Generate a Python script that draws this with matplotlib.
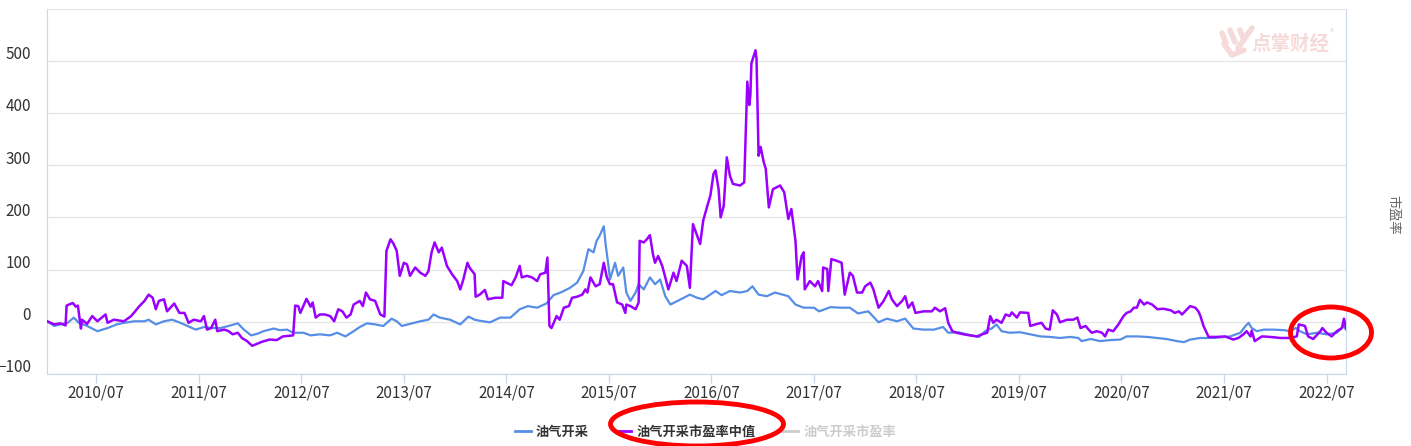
import matplotlib
matplotlib.use("Agg")
import matplotlib.pyplot as plt
from matplotlib.lines import Line2D
from matplotlib.patches import Ellipse
from matplotlib.transforms import ScaledTranslation

plt.rcParams['font.family'] = ['Noto Sans CJK SC', 'DejaVu Sans']

# ---- data (x in fractional years) ----
pe_years = [2010.02, 2010.09, 2010.15, 2010.20, 2010.21, 2010.27, 2010.30, 2010.32, 2010.35, 2010.36,
            2010.41, 2010.46, 2010.51, 2010.59, 2010.61, 2010.67, 2010.77, 2010.84, 2010.87, 2010.92,
            2010.97, 2011.01, 2011.05, 2011.08, 2011.11, 2011.16, 2011.19, 2011.26, 2011.31, 2011.36,
            2011.40, 2011.45, 2011.52, 2011.55, 2011.58, 2011.62, 2011.66, 2011.68, 2011.75, 2011.79,
            2011.83, 2011.88, 2011.92, 2011.97, 2012.02, 2012.07, 2012.12, 2012.19, 2012.26, 2012.32,
            2012.42, 2012.44, 2012.47, 2012.49, 2012.55, 2012.59, 2012.61, 2012.64, 2012.68, 2012.73,
            2012.78, 2012.82, 2012.86, 2012.90, 2012.94, 2012.98, 2013.01, 2013.07, 2013.10, 2013.13,
            2013.17, 2013.22, 2013.27, 2013.31, 2013.33, 2013.37, 2013.40, 2013.43, 2013.46, 2013.50,
            2013.53, 2013.56, 2013.61, 2013.66, 2013.71, 2013.74, 2013.77, 2013.80, 2013.84, 2013.87,
            2013.92, 2013.97, 2014.02, 2014.05, 2014.08, 2014.12, 2014.14, 2014.19, 2014.20, 2014.24,
            2014.29, 2014.32, 2014.39, 2014.46, 2014.47, 2014.55, 2014.59, 2014.63, 2014.65, 2014.70,
            2014.75, 2014.80, 2014.83, 2014.88, 2014.90, 2014.92, 2014.94, 2014.99, 2015.02, 2015.06,
            2015.11, 2015.14, 2015.19, 2015.24, 2015.27, 2015.29, 2015.32, 2015.37, 2015.41, 2015.45,
            2015.48, 2015.51, 2015.54, 2015.58, 2015.63, 2015.66, 2015.67, 2015.71, 2015.76, 2015.79,
            2015.80, 2015.84, 2015.87, 2015.90, 2015.93, 2015.95, 2015.98, 2016.02, 2016.05, 2016.08,
            2016.13, 2016.16, 2016.21, 2016.26, 2016.29, 2016.32, 2016.36, 2016.39, 2016.42, 2016.46,
            2016.49, 2016.52, 2016.54, 2016.57, 2016.59, 2016.62, 2016.65, 2016.68, 2016.71, 2016.78,
            2016.82, 2016.84, 2016.85, 2016.87, 2016.88, 2016.89, 2016.93, 2016.94, 2016.96, 2016.98,
            2017.01, 2017.03, 2017.06, 2017.10, 2017.17, 2017.21, 2017.25, 2017.28, 2017.32, 2017.34,
            2017.38, 2017.40, 2017.41, 2017.46, 2017.51, 2017.54, 2017.58, 2017.59, 2017.63, 2017.64,
            2017.67, 2017.72, 2017.77, 2017.80, 2017.85, 2017.88, 2017.92, 2017.97, 2018.00, 2018.05,
            2018.08, 2018.13, 2018.18, 2018.23, 2018.26, 2018.31, 2018.36, 2018.39, 2018.42, 2018.46,
            2018.49, 2018.57, 2018.65, 2018.68, 2018.73, 2018.78, 2018.81, 2018.85, 2018.89, 2018.96,
            2019.02, 2019.09, 2019.14, 2019.19, 2019.22, 2019.25, 2019.28, 2019.33, 2019.37, 2019.41,
            2019.43, 2019.48, 2019.51, 2019.59, 2019.61, 2019.66, 2019.72, 2019.76, 2019.80, 2019.83,
            2019.87, 2019.90, 2019.97, 2020.03, 2020.07, 2020.10, 2020.15, 2020.18, 2020.21, 2020.26,
            2020.31, 2020.34, 2020.37, 2020.42, 2020.47, 2020.52, 2020.55, 2020.59, 2020.62, 2020.65,
            2020.68, 2020.72, 2020.75, 2020.80, 2020.85, 2020.91, 2020.98, 2021.02, 2021.06, 2021.09,
            2021.12, 2021.17, 2021.22, 2021.25, 2021.27, 2021.30, 2021.35, 2021.43, 2021.51, 2021.59,
            2021.64, 2021.69, 2021.72, 2021.76, 2021.77, 2021.80, 2021.87, 2021.95, 2022.05, 2022.15,
            2022.21, 2022.23, 2022.29, 2022.32, 2022.37, 2022.44, 2022.46, 2022.50, 2022.55, 2022.60,
            2022.65, 2022.67, 2022.69]
pe_median = [1, -5, -3, -7, 31, 36, 29, 31, -13, 4,
             -4, 11, 1, 14, -2, 4, 1, 11, 18, 30,
             40, 52, 46, 24, 40, 43, 20, 35, 17, 17,
             -2, 4, 1, 11, -15, -12, 4, -18, -15, -18,
             -24, -21, -31, -37, -46, -42, -38, -34, -35, -28,
             -26, 31, 30, 17, 44, 29, 37, 8, 14, 14,
             11, 1, 24, 20, 8, 14, 33, 40, 30, 56,
             43, 40, 14, 10, 136, 158, 149, 136, 88, 113,
             110, 88, 104, 94, 88, 97, 133, 152, 133, 142,
             107, 91, 78, 62, 81, 113, 104, 91, 48, 52,
             61, 43, 46, 46, 78, 70, 85, 107, 85, 88,
             85, 78, 91, 94, 123, -8, -12, 11, 4, 27,
             30, 46, 48, 52, 62, 56, 85, 68, 72, 113,
             85, 72, 72, 37, 33, 17, 33, 30, 24, 37,
             155, 152, 158, 166, 129, 113, 126, 107, 85, 62,
             94, 78, 117, 107, 65, 187, 165, 149, 194, 222,
             242, 283, 290, 254, 200, 222, 315, 280, 264, 261,
             267, 395, 460, 415, 434, 495, 520, 504, 318, 335,
             306, 293, 219, 254, 261, 248, 197, 216, 155, 81,
             126, 133, 62, 78, 68, 78, 59, 104, 101, 59,
             120, 117, 113, 52, 94, 88, 56, 56, 68, 75,
             62, 27, 40, 59, 43, 30, 40, 49, 27, 37,
             17, 20, 20, 27, 20, 26, -2, -18, -21, -24,
             -26, -28, -24, -21, 11, -2, 4, -2, 14, 11,
             18, 8, 18, 17, -8, -5, -2, -13, -15, 22,
             14, -1, 4, 4, 8, -12, -8, -15, -21, -18,
             -21, -28, -15, -18, -5, 11, 17, 20, 27, 27,
             42, 33, 37, 33, 24, 25, 22, 17, 20, 14,
             20, 30, 27, 20, 11, -8, -29, -29, -28, -34,
             -31, -24, -18, -28, -17, -37, -28, -29, -31, -31,
             -28, -5, -8, -28, -33, -18, -12, -21, -28, -18,
             -12, 6, -12]

idx_years = [2010.02, 2010.09, 2010.15, 2010.22, 2010.28, 2010.33, 2010.41, 2010.51, 2010.61, 2010.70,
             2010.77, 2010.87, 2010.97, 2011.01, 2011.08, 2011.16, 2011.24, 2011.32, 2011.39, 2011.47,
             2011.55, 2011.63, 2011.71, 2011.79, 2011.88, 2011.94, 2012.01, 2012.07, 2012.13, 2012.23,
             2012.29, 2012.36, 2012.42, 2012.52, 2012.59, 2012.68, 2012.78, 2012.85, 2012.93, 2013.01,
             2013.07, 2013.14, 2013.22, 2013.30, 2013.38, 2013.43, 2013.48, 2013.56, 2013.66, 2013.74,
             2013.79, 2013.85, 2013.95, 2014.05, 2014.13, 2014.19, 2014.24, 2014.34, 2014.44, 2014.54,
             2014.63, 2014.71, 2014.80, 2014.89, 2014.96, 2015.04, 2015.12, 2015.19, 2015.25, 2015.30,
             2015.35, 2015.38, 2015.41, 2015.45, 2015.47, 2015.50, 2015.51, 2015.56, 2015.59, 2015.64,
             2015.67, 2015.71, 2015.76, 2015.79, 2015.84, 2015.90, 2015.95, 2016.00, 2016.05, 2016.10,
             2016.20, 2016.29, 2016.36, 2016.42, 2016.54, 2016.60, 2016.68, 2016.78, 2016.85, 2016.90,
             2016.96, 2017.04, 2017.12, 2017.25, 2017.32, 2017.40, 2017.50, 2017.55, 2017.66, 2017.76,
             2017.85, 2017.93, 2018.03, 2018.13, 2018.21, 2018.31, 2018.39, 2018.47, 2018.57, 2018.67,
             2018.76, 2018.81, 2018.91, 2018.99, 2019.11, 2019.17, 2019.24, 2019.28, 2019.33, 2019.41,
             2019.51, 2019.61, 2019.71, 2019.80, 2019.90, 2020.00, 2020.08, 2020.11, 2020.20, 2020.29,
             2020.39, 2020.49, 2020.55, 2020.65, 2020.75, 2020.85, 2020.94, 2021.04, 2021.11, 2021.17,
             2021.27, 2021.40, 2021.56, 2021.66, 2021.71, 2021.74, 2021.77, 2021.82, 2021.89, 2021.98,
             2022.08, 2022.15, 2022.20, 2022.24, 2022.31, 2022.41, 2022.50, 2022.60, 2022.67, 2022.69]
idx_values = [1, -8, -5, -2, 8, -2, -8, -18, -12, -5,
              -2, 1, 1, 4, -5, 1, 4, -2, -8, -15,
              -10, -12, -12, -8, -3, -15, -26, -23, -18, -13,
              -16, -15, -21, -21, -26, -24, -26, -21, -28, -18,
              -10, -3, -5, -8, 6, 1, -8, -4, 1, 4,
              14, 8, 4, -5, 10, 4, 2, -1, 8, 8,
              24, 30, 27, 35, 51, 57, 65, 75, 97, 139,
              133, 155, 165, 183, 145, 101, 81, 113, 88, 104,
              56, 40, 56, 72, 62, 85, 72, 81, 49, 33,
              43, 52, 46, 43, 59, 51, 59, 56, 59, 68,
              52, 49, 56, 49, 33, 27, 27, 20, 28, 27,
              27, 16, 20, -1, 6, 1, 6, -13, -15, -15,
              -10, -21, -20, -24, -29, -18, -12, -5, -18, -21,
              -20, -24, -28, -29, -31, -29, -31, -37, -33, -37,
              -35, -34, -28, -28, -29, -31, -33, -37, -39, -34,
              -31, -31, -28, -21, -8, -2, -12, -18, -15, -15,
              -16, -18, -12, -18, -24, -21, -24, -21, -8, -15]

tick_years = [2010.5 + k for k in range(13)]
tick_labels = [f"{2010 + k}/07" for k in range(13)]
y_ticks = [-100, 0, 100, 200, 300, 400, 500]
legend_labels = ["油气开采", "油气开采市盈率中值", "油气开采市盈率"]

BLUE = '#568ee6'
PURPLE = '#9a00ff'
AXIS_C = '#ccd6eb'


def main():
    fig = plt.figure(figsize=(14.11, 4.46), dpi=100)
    W, H = 1411, 446
    ax = fig.add_axes([46.5 / W, 1 - 374 / H, (1346 - 46.5) / W, (374 - 8.5) / H])

    ax.set_axisbelow(True)
    ax.grid(axis='y', color='#e6e6e6', lw=1)
    ax.plot(idx_years, idx_values, color=BLUE, lw=1.6, zorder=3)
    ax.plot(pe_years, pe_median, color=PURPLE, lw=1.8, zorder=4)

    ax.set_xlim(2010.014, 2022.69)
    ax.set_ylim(-100, 600)
    ax.set_yticks(y_ticks)
    ax.set_xticks(tick_years)
    ax.set_xticklabels(tick_labels)

    for s in ['left', 'bottom', 'right']:
        ax.spines[s].set_color(AXIS_C)
    ax.spines['top'].set_color('#e6e6e6')

    ax.tick_params(axis='y', length=0, pad=11, labelsize=11, labelcolor='#333333')
    ax.tick_params(axis='x', length=6.5, width=1, color=AXIS_C, pad=1,
                   labelsize=11, labelcolor='#333333')
    shift = ScaledTranslation(0, 8 / 100, fig.dpi_scale_trans)
    for lbl in ax.get_yticklabels():
        lbl.set_transform(lbl.get_transform() + shift)

    # right axis title
    fig.text(1393 / W, 1 - 215 / H, "市盈率", rotation=-90, ha='center', va='center',
             fontsize=9.5, color='#666666')

    # watermark
    fig.text(1290 / W, 1 - 44 / H, "点掌财经", ha='center', va='center', fontsize=14,
             fontweight='bold', color='#f6dada', zorder=0)
    fig.text(1332 / W, 1 - 33 / H, "®", ha='center', va='center', fontsize=6, color='#f3dede')
    for (x0, y0, x1, y1) in [(1222, 33, 1226, 43), (1230, 30, 1235, 42), (1240, 30, 1244, 40),
                             (1252, 28, 1238, 48)]:
        fig.add_artist(Line2D([x0 / W, x1 / W], [1 - y0 / H, 1 - y1 / H], color='#f6dada',
                              lw=4, solid_capstyle='round', transform=fig.transFigure))
    fig.add_artist(Line2D([1224 / W, 1232 / W, 1244 / W], [1 - 44 / H, 1 - 55 / H, 1 - 50 / H],
                          color='#f6dada', lw=4, solid_capstyle='round', transform=fig.transFigure))

    # legend
    handles = [Line2D([], [], color=BLUE, lw=2),
               Line2D([], [], color=PURPLE, lw=2),
               Line2D([], [], color='#cccccc', lw=2)]
    leg = fig.legend(handles, legend_labels, loc='center', bbox_to_anchor=(0.5, 1 - 432 / H),
                     ncol=3, frameon=False, fontsize=9.5, handlelength=1.2, handletextpad=0.4,
                     columnspacing=2.0, prop={'weight': 'bold', 'size': 9.5})
    for txt, c in zip(leg.get_texts(), ['#333333', '#333333', '#cccccc']):
        txt.set_color(c)

    # red marker ellipses
    fig.add_artist(Ellipse((1331 / W, 1 - 332.5 / H), 81 / W, 51 / H, fill=False,
                           ec='#ff0000', lw=3.5, transform=fig.transFigure, zorder=10))
    fig.add_artist(Ellipse((697 / W, 1 - 424 / H), 173 / W, 44 / H, fill=False,
                           ec='#ff0000', lw=3.5, transform=fig.transFigure, zorder=10))

    fig.savefig("out.png", dpi=100)


if __name__ == "__main__":
    main()
